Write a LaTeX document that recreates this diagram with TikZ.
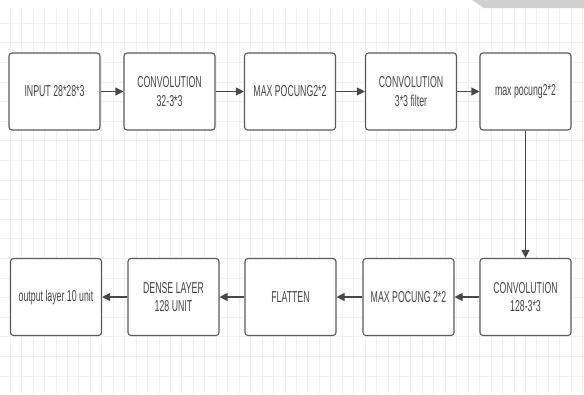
\documentclass[tikz,border=0pt]{standalone}
\usepackage{fontspec}
\usetikzlibrary{arrows.meta}
\newfontfamily\lblfont[FakeStretch=0.555]{Liberation Sans}
\definecolor{boxline}{HTML}{5A5A5A}
\definecolor{txt}{HTML}{454545}
\definecolor{gridc}{HTML}{F0F0F0}
\definecolor{wm}{HTML}{D0D0D0}
\tikzset{
  stage/.style={draw=boxline, line width=1.1pt, rounded corners=3pt, fill=white,
    minimum width=91pt, minimum height=77pt, inner sep=2pt, align=center,
    text=txt, font=\lblfont\fontsize{15.8}{18.5}\selectfont},
  flow/.style={draw=boxline!80!black, line width=1.1pt, -{Triangle[length=8pt,width=8pt]}}
}
\begin{document}
\begin{tikzpicture}[x=1pt,y=-1pt]
\useasboundingbox (0,0) rectangle (584,394);
\fill[white] (0,0) rectangle (584,394);
% grid
\foreach \i in {0,...,50} {
  \draw[gridc, line width=0.6pt] ({10+11.45*\i},8) -- ({10+11.45*\i},394);
}
\foreach \j in {0,...,19} {
  \draw[gridc, line width=0.6pt] (0,{23+19.6*\j}) -- (584,{23+19.6*\j});
}
% watermark fragment
\fill[wm] (472,0) -- (584,0) -- (584,8) -- (484,8) -- cycle;
% top row
\node[stage] (b1) at (54.5,91.5) {INPUT 28*28*3};
\node[stage] (b2) at (169.5,91.5) {CONVOLUTION\\32-3*3};
\node[stage] (b3) at (290,91.5) {MAX POCUNG2*2};
\node[stage] (b4) at (411,91.5) {CONVOLUTION\\3*3 filter};
\node[stage] (b5) at (525.5,91.5) {max pocung2*2};
% bottom row
\node[stage] (c1) at (56,297) {output layer 10 unit};
\node[stage] (c2) at (173.5,297) {DENSE LAYER\\128 UNIT};
\node[stage] (c3) at (290.5,297) {FLATTEN};
\node[stage] (c4) at (408.5,297) {MAX POCUNG 2*2};
\node[stage] (c5) at (525.5,297) {CONVOLUTION\\128-3*3};
% connectors
\draw[flow] (b1) -- (b2);
\draw[flow] (b2) -- (b3);
\draw[flow] (b3) -- (b4);
\draw[flow] (b4) -- (b5);
\draw[flow] (b5) -- (c5);
\draw[flow] (c5) -- (c4);
\draw[flow] (c4) -- (c3);
\draw[flow] (c3) -- (c2);
\draw[flow] (c2) -- (c1);
\end{tikzpicture}
\end{document}
